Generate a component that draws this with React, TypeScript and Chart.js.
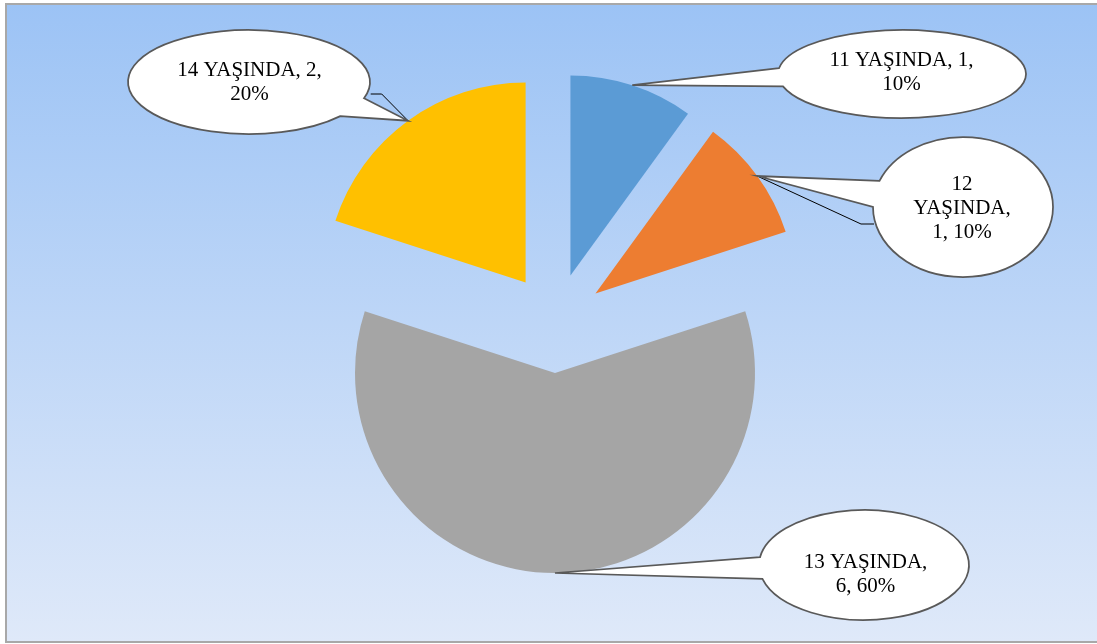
import React, { useEffect, useRef } from "react";
import { Chart, registerables } from "chart.js";

Chart.register(...registerables);

// ---- data ----
const categories = ["11 YAŞINDA", "12 YAŞINDA", "13 YAŞINDA", "14 YAŞINDA"];
const counts = [1, 1, 6, 2];
const sliceColors = ["#5B9BD5", "#ED7D31", "#A5A5A5", "#FFC000"];

// ---- layout / style ----
const W = 1097;
const H = 644;
const EXPLODE = 50;
const FONT = '21px "Liberation Serif", "Times New Roman", serif';
const LINE_H = 24;

type Callout = {
  cx: number; cy: number; rx: number; ry: number;
  a0: number; a1: number;
  tx: number; ty: number; maxW: number;
  leader: number[][];
};

const callouts: Callout[] = [
  { cx: 902, cy: 74, rx: 124, ry: 44, a0: 163.7, a1: 187.8, tx: 901.5, ty: 66, maxW: 160, leader: [] },
  { cx: 963, cy: 207, rx: 90, ry: 70, a0: 180, a1: 201.9, tx: 962, ty: 190, maxW: 105, leader: [[861, 224], [874, 224]] },
  { cx: 864, cy: 565, rx: 105, ry: 55, a0: 165.3, a1: 188.3, tx: 865.5, ty: 568, maxW: 130, leader: [] },
  { cx: 249, cy: 82, rx: 121, ry: 52, a0: 18.1, a1: 41, tx: 249.5, ty: 76, maxW: 160, leader: [[381.7, 94], [370.7, 94]] },
];

const rad = (d: number) => (d * Math.PI) / 180;

function wrap(ctx: CanvasRenderingContext2D, text: string, maxW: number): string[] {
  const words = text.split(" ");
  const lines: string[] = [];
  let cur = "";
  for (const w of words) {
    const t = cur ? cur + " " + w : w;
    if (cur && ctx.measureText(t).width > maxW) {
      lines.push(cur);
      cur = w;
    } else {
      cur = t;
    }
  }
  if (cur) lines.push(cur);
  return lines;
}

const backgroundPlugin = {
  id: "bgBox",
  beforeDraw(chart: any) {
    const ctx = chart.ctx as CanvasRenderingContext2D;
    ctx.save();
    ctx.fillStyle = "#ffffff";
    ctx.fillRect(0, 0, W, H);
    const g = ctx.createLinearGradient(0, 4, 0, 642);
    g.addColorStop(0, "#9CC3F5");
    g.addColorStop(1, "#DFE9F9");
    ctx.fillStyle = g;
    ctx.fillRect(6, 4, W - 6, 638);
    ctx.strokeStyle = "#A8A8A8";
    ctx.lineWidth = 2;
    ctx.beginPath();
    ctx.moveTo(W, 4);
    ctx.lineTo(6, 4);
    ctx.lineTo(6, 642);
    ctx.lineTo(W, 642);
    ctx.stroke();
    ctx.restore();
  },
};

const explodePlugin = {
  id: "explode",
  afterDatasetUpdate(chart: any, args: any) {
    const meta = args.meta;
    meta.data.forEach((arc: any) => {
      const mid = (arc.startAngle + arc.endAngle) / 2;
      arc.x += Math.cos(mid) * EXPLODE;
      arc.y += Math.sin(mid) * EXPLODE;
    });
  },
};

const calloutPlugin = {
  id: "callouts",
  afterDatasetsDraw(chart: any) {
    const ctx = chart.ctx as CanvasRenderingContext2D;
    const meta = chart.getDatasetMeta(0);
    const total = counts.reduce((a, b) => a + b, 0);
    ctx.save();
    meta.data.forEach((arc: any, i: number) => {
      const c = callouts[i];
      const mid = (arc.startAngle + arc.endAngle) / 2;
      const tipX = arc.x + Math.cos(mid) * arc.outerRadius;
      const tipY = arc.y + Math.sin(mid) * arc.outerRadius;

      // leader line (thin black)
      if (c.leader.length) {
        ctx.beginPath();
        ctx.moveTo(tipX, tipY);
        c.leader.forEach((p) => ctx.lineTo(p[0], p[1]));
        ctx.strokeStyle = "#000000";
        ctx.lineWidth = 1;
        ctx.stroke();
      }

      // callout bubble
      const d = (((c.a1 - c.a0) % 360) + 360) % 360;
      const anti = d < 180;
      ctx.beginPath();
      ctx.moveTo(c.cx + c.rx * Math.cos(rad(c.a1)), c.cy + c.ry * Math.sin(rad(c.a1)));
      ctx.lineTo(tipX, tipY);
      ctx.lineTo(c.cx + c.rx * Math.cos(rad(c.a0)), c.cy + c.ry * Math.sin(rad(c.a0)));
      ctx.ellipse(c.cx, c.cy, c.rx, c.ry, 0, rad(c.a0), rad(c.a1), anti);
      ctx.closePath();
      ctx.fillStyle = "#FFFFFF";
      ctx.fill();
      ctx.strokeStyle = "#595959";
      ctx.lineWidth = 1.75;
      ctx.lineJoin = "miter";
      ctx.stroke();

      // text
      ctx.font = FONT;
      ctx.fillStyle = "#000000";
      ctx.textAlign = "center";
      ctx.textBaseline = "alphabetic";
      const pct = Math.round((counts[i] / total) * 100);
      const text = `${categories[i]}, ${counts[i]}, ${pct}%`;
      const lines = wrap(ctx, text, c.maxW);
      lines.forEach((ln, k) => ctx.fillText(ln, c.tx, c.ty + k * LINE_H));
    });
    ctx.restore();
  },
};

export default function App() {
  const ref = useRef<HTMLCanvasElement | null>(null);
  useEffect(() => {
    if (!ref.current) return;
    const chart = new Chart(ref.current, {
      type: "pie",
      data: {
        labels: categories,
        datasets: [
          {
            data: counts,
            backgroundColor: sliceColors,
            borderWidth: 0,
            radius: 200,
          } as any,
        ],
      },
      options: {
        responsive: false,
        animation: false,
        events: [],
        layout: { padding: { left: 13, top: 2, right: 0, bottom: 0 } },
        plugins: {
          legend: { display: false },
          tooltip: { enabled: false },
        },
      },
      plugins: [backgroundPlugin, explodePlugin, calloutPlugin],
    });
    return () => chart.destroy();
  }, []);
  return (
    <canvas
      ref={ref}
      width={W}
      height={H}
      style={{ position: "absolute", left: 0, top: 0, display: "block" }}
    />
  );
}
